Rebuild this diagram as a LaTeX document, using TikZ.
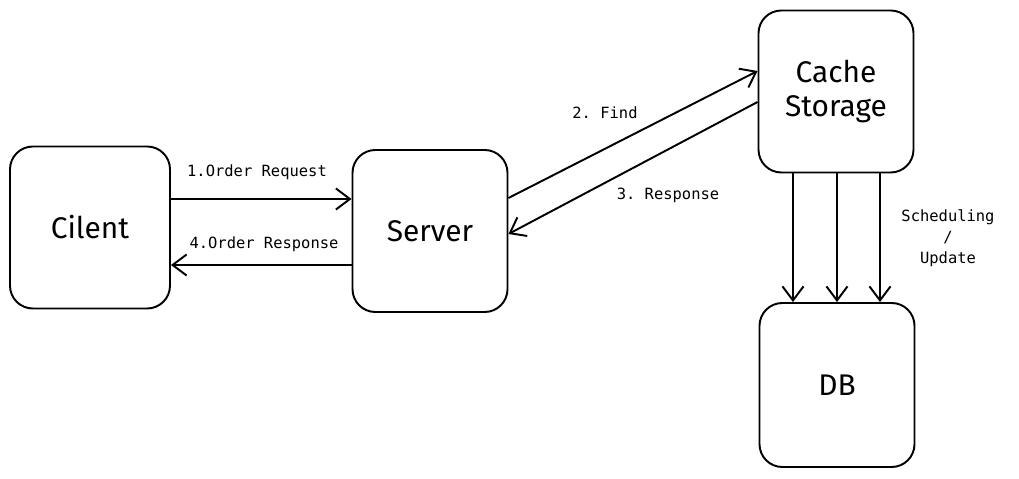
\documentclass[tikz,border=0pt]{standalone}
\usepackage{fontspec}
\setmonofont{DejaVu Sans Mono}
\newfontfamily\handfont{Fira Sans}
\usetikzlibrary{arrows.meta}

\begin{document}
\begin{tikzpicture}[x=0.2mm,y=-0.2mm,line width=1.1pt,
  box/.style={draw,rounded corners=13pt,inner sep=0pt,minimum width=31mm,minimum height=32.4mm,
    font=\handfont\fontsize{17}{19}\selectfont,align=center},
  lbl/.style={font=\ttfamily\fontsize{8.8}{12}\selectfont,align=center},
  arr/.style={-{Straight Barb[length=8pt,width=12pt]}}]
\useasboundingbox (0,0) rectangle (1019,479);
\node[box,minimum width=32mm](Cl) at (90,227.5){Cilent};
\node[box](Sv) at (430,231){Server};
\node[box](Ca) at (836,91.5){Cache\\Storage};
\node[box,minimum height=32.8mm](Db) at (837,385){DB};

\draw[arr](Cl.east |- 0,199)--(Sv.west |- 0,199);
\draw[arr](Sv.west |- 0,265)--(Cl.east |- 0,265);
\node[lbl](l1) at (257,172){1.Order Request};
\node[lbl](l4) at (264,244){4.Order Response};

\draw[arr](Sv.east |- 0,198)--(Ca.west |- 0,71);
\draw[arr](Ca.west |- 0,102)--(Sv.east |- 0,234);
\node[lbl](l2) at (605,113){2. Find};
\node[lbl](l3) at (668,195){3. Response};

\foreach \x in {793,837,880}
  \draw[arr](Ca.south -| \x,0)--(Db.north -| \x,0);
\node[lbl](l5) at (948,238){Scheduling\\/\\Update};
\end{tikzpicture}
\end{document}
